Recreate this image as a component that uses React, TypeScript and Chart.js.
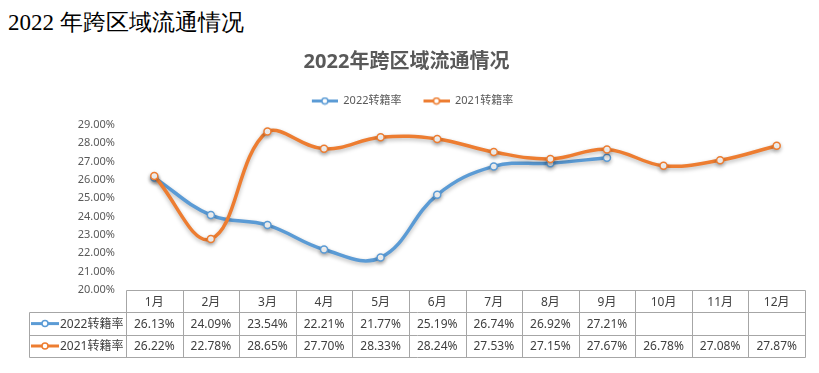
import React, { useEffect, useRef } from 'react';
import { Chart, registerables } from 'chart.js';

Chart.register(...registerables);

const pageHeading = '2022 年跨区域流通情况';
const chartTitle = '2022年跨区域流通情况';
const months = ['1月', '2月', '3月', '4月', '5月', '6月', '7月', '8月', '9月', '10月', '11月', '12月'];
const label2022 = '2022转籍率';
const label2021 = '2021转籍率';
const rate2022: (number | null)[] = [26.13, 24.09, 23.54, 22.21, 21.77, 25.19, 26.74, 26.92, 27.21, null, null, null];
const rate2021: (number | null)[] = [26.22, 22.78, 28.65, 27.7, 28.33, 28.24, 27.53, 27.15, 27.67, 26.78, 27.08, 27.87];
const yMin = 20;
const yMax = 29;
const yStep = 1;

const BLUE = '#5B9BD5';
const ORANGE = '#ED7D31';
const TEXT = '#595959';
const TABLE_TEXT = '#404040';
const GRID = '#A6A6A6';
const FONT = '"Segoe UI", "Noto Sans", "Noto Sans CJK SC", sans-serif';

const fmt = (v: number | null) => (v == null ? '' : v.toFixed(2) + '%');

function makeMarker(color: string, padLeft: number) {
  const c = document.createElement('canvas');
  const w = padLeft + 26;
  c.width = w;
  c.height = 9;
  const g = c.getContext('2d')!;
  g.strokeStyle = color;
  g.lineWidth = 3;
  g.beginPath();
  g.moveTo(padLeft, 4.5);
  g.lineTo(w, 4.5);
  g.stroke();
  g.beginPath();
  g.arc(padLeft + 13, 4.5, 3, 0, Math.PI * 2);
  g.fillStyle = '#fff';
  g.fill();
  g.lineWidth = 1.5;
  g.stroke();
  return c;
}

function drawMarker(ctx: CanvasRenderingContext2D, color: string, x: number, y: number) {
  ctx.save();
  ctx.strokeStyle = color;
  ctx.lineWidth = 3;
  ctx.beginPath();
  ctx.moveTo(x, y);
  ctx.lineTo(x + 28, y);
  ctx.stroke();
  ctx.beginPath();
  ctx.arc(x + 14, y, 3, 0, Math.PI * 2);
  ctx.fillStyle = '#fff';
  ctx.fill();
  ctx.lineWidth = 1.5;
  ctx.stroke();
  ctx.restore();
}

const legendPadPlugin = {
  id: 'legendPad',
  beforeLayout(chart: any) {
    const lg = chart.legend;
    if (lg && !lg.__patched) {
      const f = lg.fit.bind(lg);
      lg.fit = () => {
        f();
        lg.height += 8.5;
      };
      lg.__patched = true;
    }
  },
};

const shadowPlugin = {
  id: 'lineShadow',
  beforeDatasetsDraw(chart: any) {
    const ctx = chart.ctx;
    ctx.save();
    ctx.shadowColor = 'rgba(0,0,0,0.28)';
    ctx.shadowBlur = 4;
    ctx.shadowOffsetX = 0;
    ctx.shadowOffsetY = 2;
  },
  afterDatasetsDraw(chart: any) {
    chart.ctx.restore();
  },
};

const tablePlugin = {
  id: 'dataTable',
  afterDraw(chart: any) {
    const ctx: CanvasRenderingContext2D = chart.ctx;
    const { left, right, bottom } = chart.chartArea;
    const n = months.length;
    const cw = (right - left) / n;
    const rh = 22.4;
    const labelLeft = 21;
    const top = bottom;
    const px = (v: number) => Math.round(v) + 0.5;
    ctx.save();
    ctx.strokeStyle = GRID;
    ctx.lineWidth = 1;
    const line = (x1: number, y1: number, x2: number, y2: number) => {
      ctx.beginPath();
      ctx.moveTo(px(x1), px(y1));
      ctx.lineTo(px(x2), px(y2));
      ctx.stroke();
    };
    line(left, top, right, top);
    for (let r = 1; r <= 3; r++) line(labelLeft, top + r * rh, right, top + r * rh);
    for (let i = 0; i <= n; i++) line(left + i * cw, top, left + i * cw, top + 3 * rh);
    line(labelLeft, top + rh, labelLeft, top + 3 * rh);

    ctx.font = `12px ${FONT}`;
    ctx.fillStyle = TABLE_TEXT;
    ctx.textAlign = 'center';
    ctx.textBaseline = 'middle';
    const rows = [months, rate2022.map(fmt), rate2021.map(fmt)];
    rows.forEach((row, r) => {
      row.forEach((t, i) => {
        ctx.fillText(String(t), left + (i + 0.5) * cw, top + (r + 0.5) * rh + 1);
      });
    });
    const seriesRows = [
      { label: label2022, color: BLUE },
      { label: label2021, color: ORANGE },
    ];
    seriesRows.forEach((s, k) => {
      const cy = top + (k + 1.5) * rh;
      drawMarker(ctx, s.color, labelLeft + 2, cy);
      ctx.fillStyle = TABLE_TEXT;
      ctx.textAlign = 'left';
      ctx.fillText(s.label, labelLeft + 31, cy + 1);
    });
    ctx.restore();
  },
};

export default function App() {
  const ref = useRef<HTMLCanvasElement>(null);
  useEffect(() => {
    if (!ref.current) return;
    const markers = [makeMarker(BLUE, 12), makeMarker(ORANGE, 12)];
    const chart = new Chart(ref.current, {
      type: 'line',
      data: {
        labels: months,
        datasets: [
          {
            label: label2022,
            data: rate2022,
            borderColor: BLUE,
            backgroundColor: '#fff',
            borderWidth: 3.5,
            pointRadius: 3.5,
            pointBorderWidth: 1.5,
            pointBorderColor: BLUE,
            pointBackgroundColor: '#fff',
            tension: 0.4,
            order: 1,
          },
          {
            label: label2021,
            data: rate2021,
            borderColor: ORANGE,
            backgroundColor: '#fff',
            borderWidth: 3.5,
            pointRadius: 3.5,
            pointBorderWidth: 1.5,
            pointBorderColor: ORANGE,
            pointBackgroundColor: '#fff',
            tension: 0.4,
            order: 0,
          },
        ],
      },
      options: {
        animation: false,
        responsive: false,
        maintainAspectRatio: false,
        layout: { padding: { top: 0, right: 6, bottom: 75, left: 0 } },
        plugins: {
          title: {
            display: true,
            text: chartTitle,
            color: TEXT,
            font: { family: FONT, size: 20, weight: 'bold' },
            padding: { top: 12, bottom: 11.5 },
          },
          legend: {
            display: true,
            position: 'top',
            labels: {
              usePointStyle: true,
              pointStyleWidth: 38,
              padding: 10,
              color: TEXT,
              font: { family: FONT, size: 11 },
              generateLabels: (ch: any) =>
                ch.data.datasets.map((ds: any, i: number) => ({
                  text: ds.label,
                  pointStyle: markers[i],
                  fillStyle: 'transparent',
                  strokeStyle: 'transparent',
                  lineWidth: 0,
                  hidden: false,
                  datasetIndex: i,
                  fontColor: TEXT,
                })),
            },
          },
          tooltip: { enabled: false },
        },
        scales: {
          x: {
            display: false,
            offset: true,
          },
          y: {
            min: yMin,
            max: yMax,
            grid: { display: false, drawTicks: false },
            border: { display: false },
            afterFit: (s: any) => {
              s.width = 118;
            },
            ticks: {
              stepSize: yStep,
              padding: 11,
              color: TEXT,
              font: { family: FONT, size: 11 },
              callback: (v: any) => Number(v).toFixed(2) + '%',
            },
          },
        },
      },
      plugins: [legendPadPlugin, shadowPlugin, tablePlugin],
    });
    return () => chart.destroy();
  }, []);
  return (
    <div>
      <div
        style={{
          height: 30,
          lineHeight: '30px',
          fontFamily: 'serif',
          fontSize: 23,
          fontWeight: 500,
          color: '#000',
          whiteSpace: 'nowrap',
          overflow: 'hidden',
        }}
      >
        {pageHeading}
      </div>
      <canvas ref={ref} width={803} height={327} style={{ display: 'block', width: 803, height: 327 }} />
    </div>
  );
}
